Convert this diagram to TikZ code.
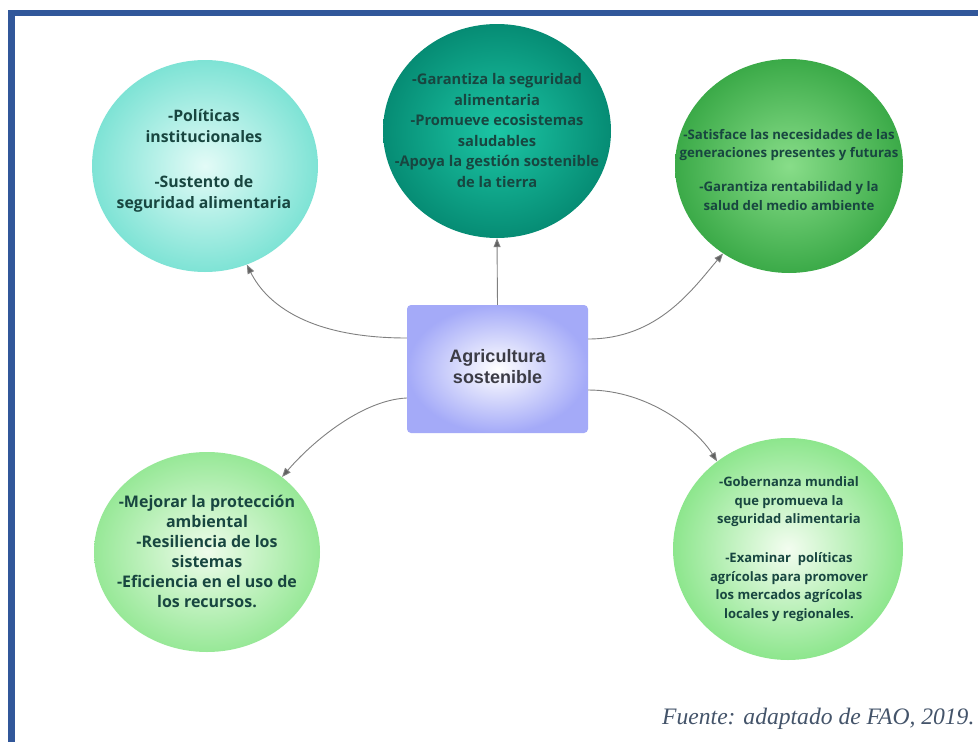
\documentclass[tikz,border=0pt]{standalone}
\usepackage{fontspec}
\setmainfont{Open Sans}
\newfontfamily\arialfont{Liberation Sans}
\newfontfamily\timesfont{Liberation Serif}
\usetikzlibrary{arrows.meta,shapes.geometric,calc}
\definecolor{framecol}{HTML}{31579A}
\definecolor{txtcol}{HTML}{184640}
\definecolor{boxtxt}{HTML}{3C3C46}
\definecolor{arrcol}{HTML}{808080}
\definecolor{tipcol}{HTML}{606060}
\definecolor{foot}{HTML}{44546A}
\definecolor{aIn}{HTML}{E3FBF7}\definecolor{aOut}{HTML}{7EE3D5}
\definecolor{bIn}{HTML}{1CC6A5}\definecolor{bOut}{HTML}{068C74}
\definecolor{cIn}{HTML}{88DD89}\definecolor{cOut}{HTML}{3BAA48}
\definecolor{dIn}{HTML}{EEFCEB}\definecolor{dOut}{HTML}{97E897}
\definecolor{eIn}{HTML}{F3FDF0}\definecolor{eOut}{HTML}{8DE68D}
\definecolor{boxOut}{HTML}{A4AAF8}
\begin{document}
\begin{tikzpicture}[x=1pt,y=-1pt,
  bubble/.style={ellipse,inner sep=0pt,draw=none},
  btext/.style={align=center,anchor=base,text=txtcol,inner sep=0pt},
  conn/.style={draw=arrcol,line width=0.9pt,-{Triangle[length=9pt,width=7pt,fill=tipcol]}}]
\useasboundingbox (0,0) rectangle (978,742);
\fill[white] (0,0) rectangle (978,742);
\draw[framecol,line width=6.5pt,line join=miter] (11.5,745) -- (11.5,13) -- (982,13);

% bubbles
\node[bubble,minimum width=226pt,minimum height=212pt,inner color=aIn,outer color=aOut] (c1) at (205,166) {};
\node[bubble,minimum width=228pt,minimum height=214pt,inner color=bIn,outer color=bOut] (c2) at (497,131) {};
\node[bubble,minimum width=228pt,minimum height=214pt,inner color=cIn,outer color=cOut] (c3) at (789,166) {};
\node[bubble,minimum width=226pt,minimum height=200pt,inner color=dIn,outer color=dOut] (c4) at (207,552) {};
\node[bubble,minimum width=230pt,minimum height=222pt,inner color=eIn,outer color=eOut] (c5) at (788,549) {};

% center box
\node[rectangle,rounded corners=4pt,minimum width=181pt,minimum height=128pt,inner color=white,outer color=boxOut] (box) at (497.5,369) {};
\node[align=center,anchor=base,inner sep=0pt,text=boxtxt,font=\arialfont\bfseries\fontsize{18}{20.5}\selectfont] (boxt) at (497.5,383) {Agricultura\\sostenible};

% texts (anchor base = baseline of last line)
\node[btext,font=\bfseries\fontsize{15.8}{21}\selectfont] (t1) at (204,208) {-Políticas\\institucionales\\[24pt]-Sustento de\\seguridad alimentaria};
\node[btext,font=\bfseries\fontsize{14.7}{20.5}\selectfont] (t2) at (497,187) {-Garantiza la seguridad\\alimentaria\\-Promueve ecosistemas\\saludables\\-Apoya la gestión sostenible\\de la tierra};
\node[btext,font=\bfseries\fontsize{13.2}{18.5}\selectfont] (t3) at (789,210) {-Satisface las necesidades de las\\generaciones presentes y futuras\\[15.5pt]-Garantiza rentabilidad y la\\salud del medio ambiente};
\node[btext,font=\bfseries\fontsize{16}{20}\selectfont] (t4) at (207,607) {-Mejorar la protección\\ambiental\\-Resiliencia de los\\sistemas\\-Eficiencia en el uso de\\los recursos.};
\node[btext,font=\bfseries\fontsize{13}{18.5}\selectfont] (t5) at (789,618) {-Gobernanza mundial\\que promueva la\\seguridad alimentaria\\[20.5pt]-Examinar\ \ políticas\\agrícolas para promover\\los mercados agrícolas\\locales y regionales.};

% connectors
\draw[conn] (box.north) -- (c2.south);
\draw[conn] ([yshift=31pt]box.west) .. controls +(-97,0) and +(20,40) .. (c1.-67);
\draw[conn] ([yshift=30pt]box.east) .. controls +(70,0) and +(-30,35) .. (c3.-127);
\draw[conn] ([yshift=-29pt]box.west) .. controls +(-45,2) and +(30,-35) .. (c4.45);
\draw[conn] ([yshift=-21pt]box.east) .. controls +(60,0) and +(-20,-32) .. (c5.129);

% footer
\node[anchor=base west,inner sep=0pt,text=foot,font=\timesfont\itshape\fontsize{23.6}{28}\selectfont] (src) at (662,724) {Fuente: adaptado de FAO, 2019.};
\end{tikzpicture}
\end{document}
